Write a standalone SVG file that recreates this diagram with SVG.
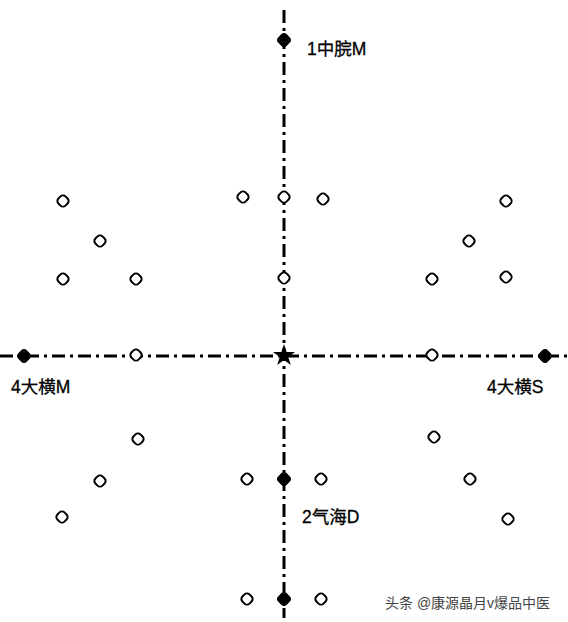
<svg xmlns="http://www.w3.org/2000/svg" width="568" height="622" viewBox="0 0 568 622">
<style>
.axis{stroke:#000;stroke-width:3;stroke-dasharray:13 5 3 5;fill:none}
.pt{fill:#fff;stroke:#000;stroke-width:2}
.fp{fill:#000;stroke:#000;stroke-width:1}
.lbl{font-family:"Liberation Sans","Noto Sans CJK SC",sans-serif;font-size:17.5px;fill:#000;stroke:#000;stroke-width:0.3}
.wm{font-family:"Liberation Sans","Noto Sans CJK SC",sans-serif;font-size:14px;fill:#444}
</style>
<defs>
<rect id="o" x="-5" y="-5" width="10" height="10" rx="3.5" transform="rotate(45)"/>
<rect id="f" x="-5.5" y="-5.5" width="11" height="11" rx="3.5" transform="rotate(45)"/>
</defs>
<rect width="568" height="622" fill="#fff"/>
<g id="connectors">
<line class="axis" x1="284" y1="10" x2="284" y2="618"/>
<line class="axis" x1="0" y1="356" x2="568" y2="356"/>
</g>
<g id="open-points" class="pt">
<use href="#o" x="63" y="201"/>
<use href="#o" x="100" y="241"/>
<use href="#o" x="63" y="279"/>
<use href="#o" x="136" y="279"/>
<use href="#o" x="136" y="355"/>
<use href="#o" x="243" y="197"/>
<use href="#o" x="284" y="197"/>
<use href="#o" x="323" y="199"/>
<use href="#o" x="284" y="278"/>
<use href="#o" x="506" y="201"/>
<use href="#o" x="469" y="241"/>
<use href="#o" x="432" y="279"/>
<use href="#o" x="506" y="277"/>
<use href="#o" x="432" y="355"/>
<use href="#o" x="138" y="439"/>
<use href="#o" x="100" y="481"/>
<use href="#o" x="62" y="517"/>
<use href="#o" x="247" y="479"/>
<use href="#o" x="321" y="479"/>
<use href="#o" x="247" y="599"/>
<use href="#o" x="321" y="599"/>
<use href="#o" x="434" y="437"/>
<use href="#o" x="470" y="479"/>
<use href="#o" x="508" y="519"/>
</g>
<g id="zhongwan">
<use href="#f" class="fp" x="284" y="40"/>
<text class="lbl" x="307" y="55">1中脘M</text>
</g>
<g id="daheng-left">
<use href="#f" class="fp" x="24" y="356"/>
<text class="lbl" x="11" y="393">4大横M</text>
</g>
<g id="daheng-right">
<use href="#f" class="fp" x="545" y="356"/>
<text class="lbl" x="487" y="393">4大横S</text>
</g>
<g id="qihai">
<use href="#f" class="fp" x="284" y="479"/>
<text class="lbl" x="302" y="523">2气海D</text>
</g>
<g id="bottom-point">
<use href="#f" class="fp" x="284" y="599"/>
</g>
<g id="center">
<polygon fill="#000" points="284,344 286.6,352 295,352 288.2,357 290.8,365 284,360 277.2,365 279.8,357 273,352 281.4,352"/>
</g>
<text class="wm" x="385" y="608">头条 @康源晶月v爆品中医</text>
</svg>
